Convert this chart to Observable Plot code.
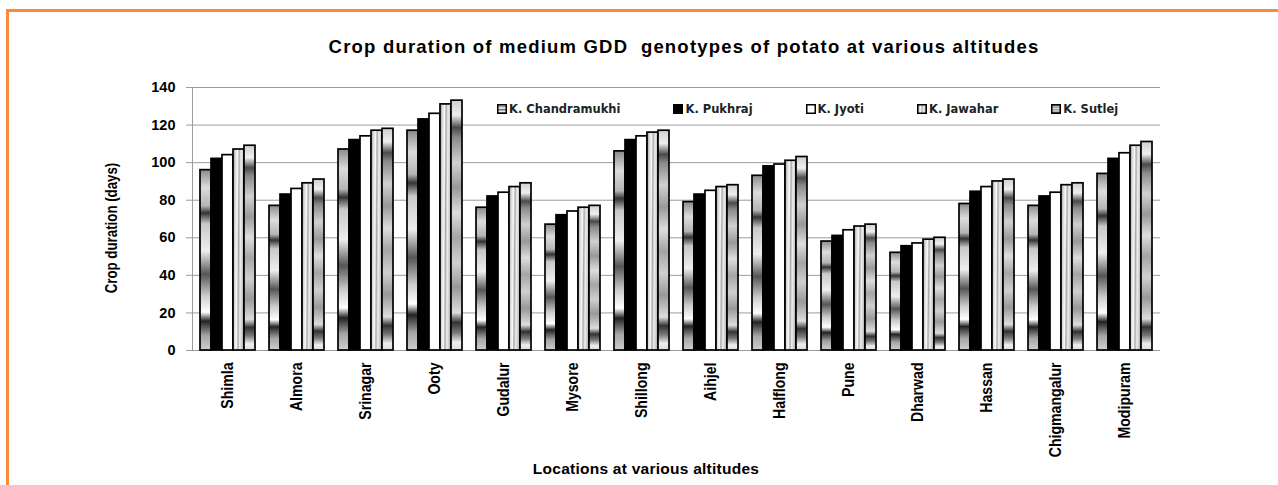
<!DOCTYPE html>
<html><head><meta charset="utf-8">
<script src="https://cdn.jsdelivr.net/npm/d3@7"></script>
<script src="https://cdn.jsdelivr.net/npm/@observablehq/plot@0.6"></script>
<style>
html,body{margin:0;padding:0;background:#fff;}
#wrap{position:relative;width:1278px;height:485px;overflow:hidden;background:#fff;font-family:"Liberation Sans",Arial,sans-serif;color:#000;}
#frame{position:absolute;left:6px;top:9px;width:1300px;height:520px;border-top:3px solid #fb8a3c;border-left:3px solid #fb8a3c;}
#title{position:absolute;left:684px;top:38px;transform:translateX(-50%);white-space:pre;font-weight:bold;font-size:18.5px;line-height:18.5px;letter-spacing:1.2px;}
.layer{position:absolute;left:0;top:70px;}
#ylabel{position:absolute;left:112px;top:228px;transform:translate(-50%,-50%) rotate(-90deg) scaleX(0.83);white-space:nowrap;font-weight:bold;font-size:16px;line-height:16px;}
#xlabel{position:absolute;left:646px;top:461px;transform:translateX(-50%);white-space:nowrap;font-weight:bold;font-size:15.5px;line-height:16px;letter-spacing:0.25px;}
#legend{position:absolute;left:497px;top:102px;display:flex;gap:53px;font-family:"DejaVu Sans",sans-serif;font-weight:bold;font-size:11.5px;line-height:14px;color:#222;}
#legend .item{display:flex;align-items:center;white-space:nowrap;}
#legend svg{margin-right:2px;}
</style></head>
<body>
<svg width="0" height="0" style="position:absolute">
<defs>
<linearGradient id="gChand" x1="0" y1="0" x2="0" y2="1">
<stop offset="0" stop-color="#8a8a8a"/><stop offset="0.1" stop-color="#dcdcdc"/><stop offset="0.2" stop-color="#b5b5b5"/>
<stop offset="0.24" stop-color="#333"/><stop offset="0.3" stop-color="#c8c8c8"/><stop offset="0.45" stop-color="#eee"/>
<stop offset="0.58" stop-color="#555"/><stop offset="0.7" stop-color="#ccc"/><stop offset="0.79" stop-color="#fff"/>
<stop offset="0.84" stop-color="#222"/><stop offset="0.92" stop-color="#a5a5a5"/><stop offset="1" stop-color="#cfcfcf"/>
</linearGradient>
<linearGradient id="gPukh" x1="0" y1="0" x2="0" y2="1"><stop offset="0" stop-color="#000"/><stop offset="1" stop-color="#000"/></linearGradient>
<linearGradient id="gJyoti" x1="0" y1="0" x2="0" y2="1"><stop offset="0" stop-color="#fff"/><stop offset="1" stop-color="#fff"/></linearGradient>
<linearGradient id="gJaw" x1="0" y1="0" x2="1" y2="0.12">
<stop offset="0" stop-color="#9a9a9a"/><stop offset="0.25" stop-color="#dedede"/><stop offset="0.42" stop-color="#f8f8f8"/>
<stop offset="0.55" stop-color="#a8a8a8"/><stop offset="0.72" stop-color="#efefef"/><stop offset="1" stop-color="#b8b8b8"/>
</linearGradient>
<linearGradient id="gSut" x1="0" y1="0" x2="0" y2="1">
<stop offset="0" stop-color="#cfcfcf"/><stop offset="0.06" stop-color="#efefef"/><stop offset="0.11" stop-color="#4a4a4a"/>
<stop offset="0.15" stop-color="#8a8a8a"/><stop offset="0.25" stop-color="#d0d0d0"/><stop offset="0.35" stop-color="#999"/>
<stop offset="0.45" stop-color="#ddd"/><stop offset="0.55" stop-color="#a5a5a5"/><stop offset="0.65" stop-color="#cfcfcf"/>
<stop offset="0.75" stop-color="#999"/><stop offset="0.85" stop-color="#ddd"/><stop offset="0.89" stop-color="#333"/>
<stop offset="0.93" stop-color="#777"/><stop offset="0.97" stop-color="#eee"/><stop offset="1" stop-color="#ddd"/>
</linearGradient>
</defs>
</svg>
<div id="wrap">
  <div id="frame"></div>
  <div id="title">Crop duration of medium GDD  genotypes of potato at various altitudes</div>
  <div id="bg" class="layer"></div>
  <div id="fg" class="layer"></div>
  <div id="ylabel">Crop duration (days)</div>
  <div id="xlabel">Locations at various altitudes</div>
  <div id="legend"></div>
</div>
<script>
const locations = ["Shimla","Almora","Srinagar","Ooty","Gudalur","Mysore","Shillong","Aihjel","Halflong","Pune","Dharwad","Hassan","Chigmangalur","Modipuram"];
const genotypes = ["K. Chandramukhi","K. Pukhraj","K. Jyoti","K. Jawahar","K. Sutlej"];
const chandramukhi = [96,77,107,117,76,67,106,79,93,58,52,78,77,94];
const pukhraj      = [102,83,112,123,82,72,112,83,98,61,55.5,84.5,82,102];
const jyoti        = [104,86,114,126,84,74,114,85,99,64,57,87,84,105];
const jawahar      = [107,89,117,131,87,76,116,87,101,66,59,90,88,109];
const sutlej       = [109,91,118,133,89,77,117,88,103,67,60,91,89,111];
const yTicks = [0,20,40,60,80,100,120,140];

const series = [chandramukhi, pukhraj, jyoti, jawahar, sutlej];
const fills = ["url(#gChand)","url(#gPukh)","url(#gJyoti)","url(#gJaw)","url(#gSut)"];
const data = locations.flatMap((loc,i)=>genotypes.map((g,j)=>({location:loc, genotype:g, value:series[j][i]})));

const dims = {width:1278, height:380, marginLeft:192, marginRight:118, marginTop:17, marginBottom:100};

const bg = Plot.plot({
  ...dims,
  style:{background:"transparent", fontFamily:"'Liberation Sans', Arial, sans-serif"},
  x:{domain:[0,1], axis:null},
  y:{domain:[0,140], axis:null},
  marks:[
    Plot.gridY(yTicks, {stroke:"#9c9c9c", strokeOpacity:1, strokeWidth:1}),
    Plot.ruleX([0], {stroke:"#9c9c9c", strokeWidth:1}),
    Plot.axisY(yTicks, {tickSize:6, tickPadding:11, stroke:"#9c9c9c", fill:"#000", fontSize:14.5, fontWeight:"bold", label:null, tickFormat:d=>String(d)})
  ]
});
document.getElementById("bg").appendChild(bg);

const fg = Plot.plot({
  ...dims,
  style:{background:"transparent", fontFamily:"'Liberation Sans', Arial, sans-serif", overflow:"visible"},
  fx:{domain:locations, paddingInner:0.2, paddingOuter:0.1, label:null},
  x:{domain:genotypes, padding:0, axis:null},
  y:{domain:[0,140], axis:null},
  color:{domain:genotypes, range:fills},
  marks:[
    Plot.barY(data, {fx:"location", x:"genotype", y:"value", fill:"genotype", stroke:"#000", strokeWidth:1.7}),
    Plot.axisFx({anchor:"bottom", tickRotate:-90, tickSize:0, tickPadding:12, label:null, fontSize:17, fontWeight:"bold", fill:"#000"})
  ]
});
document.getElementById("fg").appendChild(fg);
// condense the rotated location labels along their baseline (narrow bold look)
fg.querySelectorAll('[aria-label="fx-axis tick label"] text').forEach(t=>{
  const tr = t.getAttribute("transform") || "";
  t.setAttribute("transform", tr + " scale(0.83,1)");
});

const legend = document.getElementById("legend");
genotypes.forEach((g,j)=>{
  const item = document.createElement("div");
  item.className = "item";
  item.innerHTML = `<svg width="10" height="10"><rect x="0.75" y="0.75" width="8.5" height="8.5" fill="${fills[j]}" stroke="#000" stroke-width="1.5"/></svg><span>${g}</span>`;
  legend.appendChild(item);
});
</script>
</body></html>
